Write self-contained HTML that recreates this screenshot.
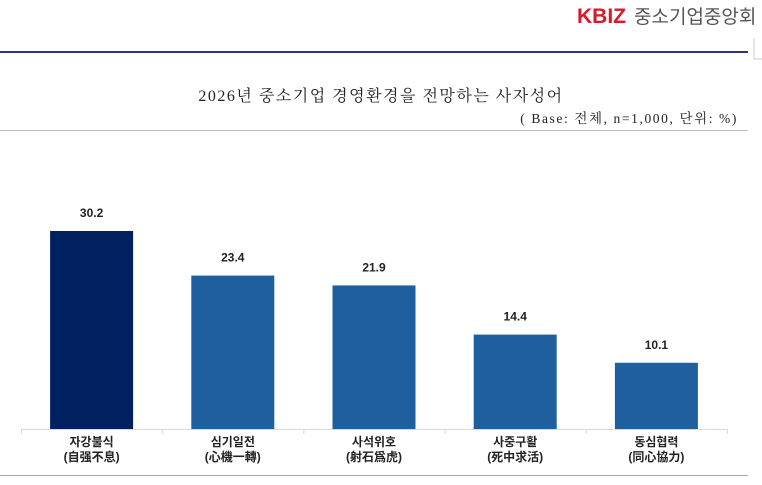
<!DOCTYPE html>
<html><head><meta charset="utf-8"><style>
body{margin:0;width:762px;height:485px;background:#fff;overflow:hidden;font-family:"Liberation Sans","Noto Sans CJK KR",sans-serif;}
svg{display:block}
</style></head><body>
<svg width="762" height="485">
<text x="577" y="23" font-size="21" font-weight="bold" fill="#d7192a" font-family="Liberation Sans, sans-serif">KBIZ</text>
<text x="634" y="23" font-size="19" fill="#555" font-family="Noto Sans CJK KR, sans-serif">중소기업중앙회</text>
<rect x="0" y="51" width="748" height="2" fill="#2e3580"/>
<path d="M754 38 V59 H762" fill="none" stroke="#ccc"/>
<text x="381" y="101" text-anchor="middle" font-size="16" letter-spacing="1.5" fill="#222" font-family="Liberation Serif, Noto Serif CJK SC, serif">2026년 중소기업 경영환경을 전망하는 사자성어</text>
<text x="738" y="123" text-anchor="end" font-size="13.5" letter-spacing="1.6" fill="#222" font-family="Liberation Serif, Noto Serif CJK SC, serif">( Base: 전체, n=1,000, 단위: %)</text>
<line x1="0" y1="130.5" x2="748" y2="130.5" stroke="#bbb"/>
<line x1="0" y1="475.5" x2="748" y2="475.5" stroke="#aaa"/>
<g id="plot"></g>
</svg>
<script>
const categories=["자강불식","심기일전","사석위호","사중구활","동심협력"];
const hanja=["(自强不息)","(心機一轉)","(射石爲虎)","(死中求活)","(同心協力)"];
const values=[30.2,23.4,21.9,14.4,10.1];
const labels=["30.2","23.4","21.9","14.4","10.1"];
const NS="http://www.w3.org/2000/svg";
const g=document.getElementById('plot');
const x0=21,cw=141.2,base=429,scale=198/30.2,bw=83;
const xs=i=>x0+i*cw;
const ys=v=>base-v*scale;
function mk(t,a){const e=document.createElementNS(NS,t);for(const k in a)e.setAttribute(k,a[k]);g.appendChild(e);return e;}
const ax=mk('line',{x1:x0,y1:base+0.5,x2:x0+5*cw,y2:base+0.5,stroke:'#d9d9d9'});


for(let i=0;i<=5;i++){const t=mk('line',{x1:xs(i)+0.5,y1:base,x2:xs(i)+0.5,y2:base+5,stroke:'#d9d9d9'});

}
values.forEach((v,i)=>{
const cx=xs(i)+cw/2;
const r=mk('rect',{x:cx-bw/2,y:ys(v),width:bw,height:base-ys(v),fill:i==0?'#002060':'#1f5f9e'});


const l=mk('text',{x:cx,y:ys(v)-14,'text-anchor':'middle','font-size':12,'font-weight':'bold',fill:'#222'});l.textContent=labels[i];


const c=mk('text',{x:cx,y:base+17,'text-anchor':'middle','font-size':12,'font-weight':'bold',fill:'#222'});c.textContent=categories[i];


const h=mk('text',{x:cx,y:base+32,'text-anchor':'middle','font-size':12,'font-weight':'bold',fill:'#222'});h.textContent=hanja[i];


});
</script>
</body></html>
